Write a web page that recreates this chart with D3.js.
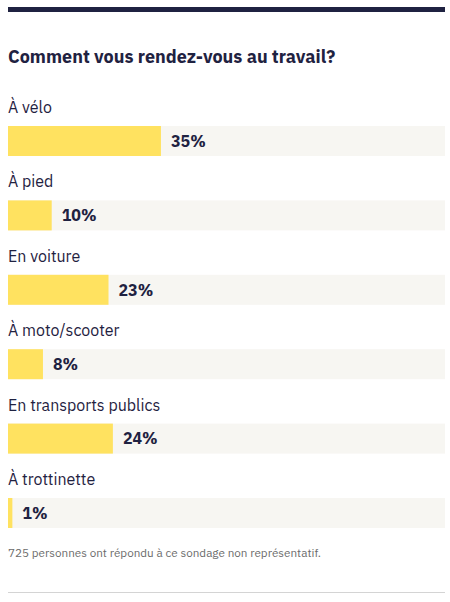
<!DOCTYPE html>
<html>
<head>
<meta charset="utf-8">
<script src="https://cdn.jsdelivr.net/npm/d3@7"></script>
<style>
  body { margin: 0; background: #fff; }
  text { font-family: "IBM Plex Sans", Roboto, "Noto Sans", sans-serif; }
</style>
</head>
<body>
<div id="chart"></div>
<script>
// Données du sondage
const categories = ["À vélo", "À pied", "En voiture", "À moto/scooter", "En transports publics", "À trottinette"];
const values = [35, 10, 23, 8, 24, 1];
const title = "Comment vous rendez-vous au travail?";
const note = "725 personnes ont répondu à ce sondage non représentatif.";

const width = 450, height = 602;
const left = 8, right = 445;
const barH = 30;

const svg = d3.select("#chart")
  .append("svg")
  .attr("width", width)
  .attr("height", height);

// ligne du haut
svg.append("rect")
  .attr("x", left).attr("y", 7)
  .attr("width", right - left).attr("height", 5)
  .attr("fill", "#1f2241");

svg.append("text")
  .attr("x", left).attr("y", 63)
  .attr("font-size", 18)
  .attr("font-weight", 700)
  .attr("fill", "#1f2241")
  .text(title);

// échelles
const x = d3.scaleLinear().domain([0, 100]).range([0, right - left]);
const y = d3.scaleBand()
  .domain(categories)
  .range([126, 126 + 6 * 74.4]);

const rows = svg.selectAll(".row")
  .data(categories.map((c, i) => ({ cat: c, val: values[i] })))
  .enter().append("g")
  .attr("class", "row")
  .attr("transform", d => `translate(${left}, ${y(d.cat)})`);

rows.append("rect")
  .attr("width", x(100))
  .attr("height", barH)
  .attr("fill", "#f7f6f2");

rows.append("rect")
  .attr("width", d => x(d.val))
  .attr("height", barH)
  .attr("fill", "#ffe260");

rows.append("text")
  .attr("y", -13)
  .attr("font-size", 16)
  .attr("fill", "#1f2241")
  .text(d => d.cat);

rows.append("text")
  .attr("x", d => x(d.val) + 10)
  .attr("y", barH / 2)
  .attr("dy", "0.36em")
  .attr("font-size", 16)
  .attr("font-weight", 700)
  .attr("fill", "#1f2241")
  .text(d => `${d.val}%`);

svg.append("text")
  .attr("x", left).attr("y", 557)
  .attr("font-size", 11.7)
  .attr("fill", "#6b6b6b")
  .text(note);

svg.append("line")
  .attr("x1", left).attr("x2", right)
  .attr("y1", 592.5).attr("y2", 592.5)
  .attr("stroke", "#d4d4d4")
  .attr("stroke-width", 1);
</script>
</body>
</html>
